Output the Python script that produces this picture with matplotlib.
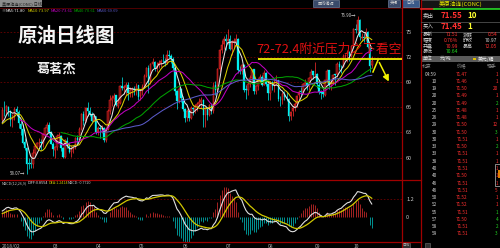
import numpy as np
import pandas as pd
import matplotlib
matplotlib.use('Agg')
import matplotlib.pyplot as plt

plt.rcParams['font.family'] = ['Noto Sans CJK SC', 'DejaVu Sans']

# ---------------- data ----------------
warmup_closes = [62.96, 63.57, 63.80, 64.30, 63.73, 63.97, 63.95, 63.37, 63.57, 64.47]

opens = [64.5, 65.6, 65.5, 66.0, 65.6, 64.5,
         64.8, 65.8, 65.4, 64.0, 63.4, 61.8, 61.1, 59.3, 59.3, 59.2, 60.6, 61.3, 61.7, 61.8, 61.7, 62.7, 63.5, 63.9, 63.0,
         61.6, 60.9, 61.2, 62.6, 62.6, 61.1, 60.1, 62.0, 61.4, 60.7, 61.0, 61.2, 62.3, 62.1, 63.4, 65.2, 64.3, 65.9, 65.6, 65.2, 64.4,
         64.9, 63.0, 63.5, 63.4, 63.5, 62.1, 63.4, 65.5, 66.8, 67.1, 67.4, 66.2, 66.5, 68.5, 68.3, 68.4, 68.6, 67.7, 68.1, 68.2, 68.1,
         68.6, 67.3, 67.9, 68.4, 69.7, 70.7, 69.1, 71.1, 71.4, 70.7, 71.0, 71.3, 71.5, 71.5, 71.3, 72.2, 72.1, 71.8, 70.7, 67.9, 66.7, 68.2,
         67.0, 65.8, 64.8, 65.5, 64.7, 65.9, 65.7, 66.1, 66.4, 66.6, 66.9, 65.1, 65.9, 65.1, 66.2, 65.5, 68.6, 68.1, 70.5, 72.8, 73.5,
         74.1, 73.9, 74.1, 72.9, 73.8, 73.9, 74.1, 70.4, 70.3, 71.0, 68.1, 68.1, 68.8, 69.5, 70.5, 67.9, 68.5, 69.3, 69.6, 68.7, 70.1,
         68.8, 67.7, 69.0, 68.5, 69.0, 69.2, 66.9, 66.8, 67.6, 67.2, 67.0, 65.0, 65.5, 65.9, 66.4, 67.4, 67.9, 67.8, 68.7, 68.9, 68.5, 69.5, 70.3,
         69.8, 69.9, 68.7, 67.8, 67.8, 67.5, 69.3, 70.4, 68.6, 69.0, 69.9, 69.9, 71.1, 70.8, 70.8, 72.1, 72.3, 72.6, 72.1,
         73.3, 75.3, 75.2, 76.4, 74.3, 74.3, 74.3, 75.0, 73.2, 70.99]

highs = [66.0, 66.7, 66.3, 66.2, 65.7, 65.2,
         66.0, 66.2, 65.7, 64.4, 64.0, 62.3, 61.3, 59.9, 59.9, 61.0, 61.6, 61.9, 62.3, 62.2, 62.9, 63.7, 64.2, 64.2, 63.2,
         61.8, 61.4, 62.8, 63.0, 62.7, 61.3, 62.2, 62.4, 61.8, 61.5, 61.4, 62.4, 62.7, 63.6, 65.3, 65.5, 66.0, 66.6, 66.0, 65.4, 65.2,
         65.0, 63.8, 63.9, 63.9, 63.7, 63.6, 65.8, 67.4, 67.5, 67.7, 67.5, 66.9, 68.6, 69.6, 68.7, 69.0, 69.0, 68.4, 68.4, 68.5, 68.9,
         68.7, 68.0, 68.8, 69.9, 70.8, 71.0, 71.3, 71.9, 71.5, 71.4, 71.6, 71.8, 72.3, 71.9, 72.8, 72.8, 72.3, 72.0, 70.8, 68.0, 68.4, 68.3,
         67.3, 65.9, 65.8, 65.8, 66.2, 66.0, 66.4, 66.6, 67.1, 67.2, 67.0, 66.0, 66.0, 66.4, 66.5, 69.0, 69.1, 70.7, 72.9, 74.0, 74.5,
         74.7, 75.3, 74.6, 74.0, 74.2, 74.7, 74.3, 70.9, 71.2, 71.1, 68.6, 69.1, 69.8, 70.6, 70.5, 68.7, 69.5, 69.9, 69.8, 70.4, 70.2,
         68.9, 69.1, 69.1, 69.4, 69.8, 69.3, 67.3, 67.8, 67.9, 67.8, 67.1, 65.6, 66.1, 66.6, 67.5, 68.0, 68.4, 68.9, 69.4, 69.0, 69.6, 70.5, 70.3,
         71.4, 70.1, 69.3, 68.0, 68.3, 69.3, 70.6, 70.4, 69.2, 69.9, 70.0, 71.4, 71.5, 71.0, 72.3, 72.4, 72.8, 72.7, 73.4,
         75.4, 75.9, 76.9, 76.5, 74.9, 74.9, 75.5, 75.1, 73.2, 72.05]

lows = [64.3, 65.0, 65.2, 65.0, 63.8, 63.7,
        64.5, 65.0, 63.5, 62.7, 61.6, 60.9, 58.07, 58.6, 58.8, 58.8, 60.2, 61.0, 61.2, 60.9, 61.2, 62.4, 63.0, 62.8, 61.6,
        60.2, 60.0, 60.9, 61.9, 60.8, 59.9, 60.0, 61.1, 60.5, 60.1, 60.6, 61.0, 61.5, 62.0, 63.3, 63.9, 64.2, 65.0, 64.9, 64.2, 64.3,
        62.8, 62.7, 62.3, 62.9, 61.9, 61.8, 63.3, 65.2, 66.2, 66.6, 66.1, 65.9, 66.4, 68.0, 67.6, 67.5, 66.9, 67.2, 67.2, 67.5, 67.4,
        66.9, 66.9, 67.4, 68.3, 69.6, 67.7, 68.8, 70.9, 70.3, 70.2, 70.7, 70.8, 71.3, 70.9, 71.2, 71.9, 71.3, 70.4, 67.5, 65.8, 66.5, 66.6,
        65.5, 64.2, 64.4, 64.3, 64.6, 65.1, 65.3, 65.5, 66.0, 65.9, 63.6, 63.6, 64.5, 64.9, 65.2, 65.3, 67.5, 67.9, 70.2, 72.5, 72.9,
        72.8, 73.5, 72.8, 72.2, 73.1, 73.5, 70.1, 69.9, 70.0, 67.8, 67.0, 67.5, 68.4, 68.8, 67.6, 67.6, 68.1, 69.1, 68.5, 68.6, 68.5,
        66.9, 66.9, 68.0, 67.8, 68.7, 66.7, 66.2, 66.4, 66.9, 66.7, 64.4, 64.5, 65.0, 65.6, 66.0, 66.9, 67.4, 67.6, 68.5, 68.0, 68.1, 69.4, 69.4,
        69.5, 68.3, 67.6, 67.0, 67.2, 67.3, 68.9, 68.2, 68.1, 68.8, 68.7, 69.6, 70.4, 70.1, 70.8, 71.6, 71.4, 71.5, 72.0,
        73.1, 74.8, 74.8, 74.0, 73.9, 73.8, 73.9, 73.0, 70.2, 70.64]

closes = [65.61, 65.51, 66.14, 65.56, 64.50, 64.73,
          65.80, 65.45, 64.15, 63.39, 61.79, 61.15, 59.20, 59.29, 59.19, 60.60, 61.34, 61.68, 61.79, 61.68, 62.77, 63.55, 63.91, 63.01, 61.64,
          60.99, 61.25, 62.57, 62.60, 61.15, 60.12, 62.04, 61.36, 60.71, 60.96, 61.19, 62.34, 62.06, 63.40, 65.17, 64.30, 65.88, 65.55, 65.25, 64.38, 64.94,
          63.01, 63.51, 63.37, 63.54, 62.06, 63.42, 65.51, 66.82, 67.07, 67.39, 66.22, 66.52, 68.47, 68.29, 68.38, 68.64, 67.70, 68.05, 68.19, 68.10, 68.57,
          67.25, 67.93, 68.43, 69.72, 70.73, 69.06, 71.14, 71.36, 70.70, 70.96, 71.31, 71.49, 71.49, 71.28, 72.24, 72.13, 71.84, 70.71, 67.88, 66.73, 68.21, 67.04,
          65.81, 64.75, 65.52, 64.73, 65.95, 65.74, 66.10, 66.36, 66.64, 66.89, 65.06, 65.85, 65.07, 66.22, 65.54, 68.58, 68.08, 70.53, 72.76, 73.45, 74.15,
          73.94, 74.14, 72.94, 73.80, 73.85, 74.11, 70.38, 70.33, 71.01, 68.06, 68.08, 68.76, 69.46, 70.46, 67.89, 68.52, 69.30, 69.61, 68.69, 70.13, 68.76,
          67.66, 68.96, 68.49, 69.01, 69.17, 66.94, 66.81, 67.63, 67.20, 67.04, 65.01, 65.46, 65.91, 66.43, 67.35, 67.86, 67.83, 68.72, 68.87, 68.53, 69.51, 70.25, 69.80,
          69.87, 68.72, 67.77, 67.75, 67.54, 69.25, 70.37, 68.59, 68.99, 69.85, 69.85, 71.12, 70.80, 70.78, 72.08, 72.28, 72.57, 72.12, 73.25,
          75.30, 75.23, 76.41, 74.33, 74.34, 74.29, 74.96, 73.17, 70.97, 71.51]

month_ticks = [0, 25, 46, 67, 89, 110, 131, 154, 173]
month_labels = ['2018/02', '03', '04', '05', '06', '07', '08', '09', '10']
price_ticks = [75, 72, 69, 66, 63, 60]
macd_ticks = [1.2, 0]
ma_periods = [5, 10, 20, 40, 60]
ma_colors = ['#e6e6e6', '#d8d000', '#c000c0', '#00a000', '#5a5ac8']
ma_legend = ['MA5:71.80', 'MA10:73.97', 'MA20:73.61', 'MA40:70.61', 'MA60:69.69']
high_label, low_label = '76.90', '58.07'
resist_price = 71.8
resist_start = 126
forecast_path = [(182.6, 70.2), (185.1, 71.63), (191.0, 68.77)]

tick_times = ['04:59', '10', '19', '20', '20', '25', '26', '29', '30', '30', '33', '33', '38', '40', '40',
              '46', '46', '50', '52', '55', '57', '58', '59']
tick_prices = ['71.47', '71.46', '71.50', '71.49', '71.49', '71.48', '71.48', '71.50', '71.50', '71.51', '71.50',
               '71.51', '71.51', '71.51', '71.50', '71.51', '71.51', '71.52', '71.52', '71.51', '71.50', '71.51', '71.51']
tick_vols = ['1', '1', '20', '1', '2', '1', '1', '12', '3', '1', '2', '1', '1', '1', '1', '1', '5', '1', '1', '1', '4', '2', '3']
tick_up = [1, 1, 1, 1, 0, 1, 1, 1, 0, 1, 0, 1, 1, 1, 1, 1, 1, 1, 1, 0, 0, 0, 0]

# ---------------- computations ----------------
o = np.array(opens); h = np.array(highs); l = np.array(lows); c = np.array(closes)
n = len(c)
idx = np.arange(n)
full = pd.Series(warmup_closes + closes)
nw = len(warmup_closes)
mas = [full.rolling(p).mean().values[nw:] for p in ma_periods]
ema12 = full.ewm(span=12, adjust=False).mean()
ema26 = full.ewm(span=26, adjust=False).mean()
diff = (ema12 - ema26)
dea = diff.ewm(span=9, adjust=False).mean()
macd = 2 * (diff - dea)
diff = diff.values[nw:]; dea = dea.values[nw:]; macd = macd.values[nw:]

# ---------------- figure ----------------
W, H = 500, 248
fig = plt.figure(figsize=(5, 2.48), dpi=100, facecolor='black')

def rect(x0, y0, x1, y1):
    return [x0 / W, 1 - y1 / H, (x1 - x0) / W, (y1 - y0) / H]

px0, dx = 2.3, 2.03
xlim = (-px0 / dx, (402 - px0) / dx)

ax = fig.add_axes(rect(0, 8, 402, 179.5))
ax.set_facecolor('black')
ax.set_xlim(*xlim)
ax.set_ylim(75 - (179.5 - 31.7) / 8.39, 75 + (31.7 - 8) / 8.39)
for p in price_ticks:
    ax.axhline(p, color='#6a0000', lw=0.6, ls=(0, (2, 2)), zorder=0)

up = c >= o
body_lo = np.minimum(o, c)
body_h = np.maximum(np.abs(c - o), 0.06)
ax.vlines(idx[up], l[up], h[up], color='#ff3030', lw=0.5, zorder=2)
ax.vlines(idx[~up], l[~up], h[~up], color='#00f0f0', lw=0.5, zorder=2)
ax.bar(idx[up], body_h[up], bottom=body_lo[up], width=0.75, color='#6a0c0c',
       edgecolor='#ff2a2a', linewidth=0.35, zorder=3)
ax.bar(idx[~up], body_h[~up], bottom=body_lo[~up], width=0.75, color='#00f0f0',
       edgecolor='#00f0f0', linewidth=0.2, zorder=3)
for m, col in zip(mas, ma_colors):
    ax.plot(idx, m, color=col, lw=0.75, zorder=4)

# annotations
ax.hlines(resist_price, resist_start, xlim[1], color='#f0f000', lw=1.3, zorder=6)
fx = [p[0] for p in forecast_path]; fy = [p[1] for p in forecast_path]
ax.plot(fx[:2], fy[:2], color='#f0f000', lw=1.1, zorder=6)
ax.annotate('', xy=(fx[2], fy[2]), xytext=(fx[1], fy[1]),
            arrowprops=dict(arrowstyle='-|>,head_length=0.35,head_width=0.18', color='#f0f000', lw=1.1), zorder=6)
ih = int(np.argmax(h)); il = int(np.argmin(l))
ax.text(ih - 0.8, h[ih], high_label + '→', color='#d0d0d0', fontsize=3.2, ha='right', va='center', zorder=7)
ax.text(il - 0.8, l[il], low_label + '→', color='#d0d0d0', fontsize=3.2, ha='right', va='center', zorder=7)

ax.yaxis.tick_right()
ax.set_yticks(price_ticks)
ax.set_yticklabels([str(p) for p in price_ticks])
ax.tick_params(axis='y', length=0, pad=3, labelsize=4, labelcolor='#c8c8c8')
ax.set_xticks([])
for s in ax.spines.values():
    s.set_visible(False)

# MACD panel
axm = fig.add_axes(rect(0, 180.5, 402, 242))
axm.set_facecolor('black')
axm.set_xlim(*xlim)
axm.set_ylim(-(242 - 217) / 15, (217 - 180.5) / 15)
axm.axhline(1.2, color='#6a0000', lw=0.6, ls=(0, (2, 2)), zorder=0)
pos = macd >= 0
axm.vlines(idx[pos], 0, macd[pos], color='#c02828', lw=0.6)
axm.vlines(idx[~pos], 0, macd[~pos], color='#00a8a8', lw=0.6)
axm.plot(idx, diff, color='#e0e0e0', lw=0.8)
axm.plot(idx, dea, color='#d0c800', lw=0.9)
axm.yaxis.tick_right()
axm.set_yticks(macd_ticks)
axm.set_yticklabels(['1.2', '0'])
axm.tick_params(axis='y', length=0, pad=3, labelsize=4, labelcolor='#c8c8c8')
axm.set_xticks(month_ticks)
axm.set_xticklabels(month_labels)
axm.tick_params(axis='x', length=0, pad=1.2, labelsize=3.6, labelcolor='#b0b0b0')
for lab in axm.get_xticklabels():
    lab.set_horizontalalignment('left')
for s in axm.spines.values():
    s.set_visible(False)

# ---------------- overlay (frame, texts, quote panel) ----------------
ov = fig.add_axes([0, 0, 1, 1], zorder=20)
ov.set_xlim(0, W); ov.set_ylim(H, 0); ov.axis('off'); ov.patch.set_alpha(0)

def T(x, y, s, col='#c8c8c8', fs=4, ha='left', va='center', **kw):
    ov.text(x, y, s, color=col, fontsize=fs, ha=ha, va=va, **kw)

red = '#a00000'
ov.plot([0, 421], [179.8, 179.8], color=red, lw=0.9)
ov.plot([0, 421], [242.3, 242.3], color=red, lw=0.9)
ov.plot([0, 421], [7.6, 7.6], color='#500000', lw=0.7)
ov.plot([401.5, 401.5], [0, 248], color=red, lw=0.9)
ov.plot([420.5, 420.5], [0, 248], color=red, lw=0.9)

# header
ov.add_patch(plt.Rectangle((0, 0), 42, 6.5, facecolor='#8c8c8c', edgecolor='none'))
T(2, 3.3, '美原油连(CONC) 日线', '#202020', 3)
ov.add_patch(plt.Rectangle((313, 0), 26, 6.5, facecolor='#3a4a6a', edgecolor='#8090b0', lw=0.4))
T(326, 3.3, '画线编辑', '#d0d0d0', 3, ha='center')
ov.add_patch(plt.Rectangle((388, 0), 12, 6.5, facecolor='#3a4a6a', edgecolor='#8090b0', lw=0.4))
T(394, 3.3, '关闭', '#d0d0d0', 3, ha='center')
ov.add_patch(plt.Rectangle((402, 0), 17, 6.5, facecolor='#3a5a8a', edgecolor='#90a0c0', lw=0.4))
T(410.5, 3.3, '日线', '#e0e0e0', 3, ha='center')

# MA legend
T(1.5, 10.5, '※', '#c0c0c0', 3)
for xpos, s, col in zip([6, 28, 51, 74, 97], ma_legend, ma_colors):
    T(xpos, 10.5, s, col, 3.0)

# MACD legend
T(2, 183.5, 'MACD(12,26,9)', '#c0c0c0', 2.7)
T(28, 183.5, 'DIFF:0.8554', '#e0e0e0', 2.7)
T(49, 183.5, 'DEA:1.2414', '#d0c800', 2.7)
T(68, 183.5, 'MACD:-0.7720', '#c0c0c0', 2.7)

# titles
T(66, 36, '原油日线图', '#f4f4f4', 14, ha='center', fontweight='bold')
T(57, 68.5, '葛茗杰', '#f0f0f0', 9.5, ha='center', fontweight='bold')
T(256, 49, '72-72.4附近压力之下看空', '#e01010', 9.2)

# price marker on axis
ov.add_patch(plt.Rectangle((400.5, 57.5), 2.2, 2.2, facecolor='#f0f000', edgecolor='none'))

# quote panel
ov.add_patch(plt.Rectangle((421, 0), 79, 8, facecolor='#141414', edgecolor='#606060', lw=0.5))
T(461, 4, '美原油连(CONC)', '#e8e800', 4.2, ha='center')
ov.plot([421, 434], [9.3, 9.3], color='#e02020', lw=1.2)
ov.plot([434, 500], [9.3, 9.3], color='#20d020', lw=1.2)
T(423, 15.5, '卖出', '#d0d0d0', 4)
T(441, 15.5, '71.55', '#ff3030', 5.8, fontweight='bold')
T(467, 15.5, '10', '#ffff30', 5.8, fontweight='bold')
ov.plot([421, 500], [21.5, 21.5], color='#505050', lw=0.6)
T(423, 26.5, '买入', '#d0d0d0', 4)
T(441, 26.5, '71.45', '#ff3030', 5.8, fontweight='bold')
T(467, 26.5, '1', '#ffff30', 5.8, fontweight='bold')
ov.plot([421, 500], [31.5, 31.5], color='#505050', lw=0.6)
stats = [('最新', '71.51', '#ff3030', '涨跌', '0.54', '#ff3030'),
         ('幅度', '0.76%', '#ff3030', '昨收', '70.97', '#d0d0d0'),
         ('开盘', '70.99', '#ff3030', '最高', '72.05', '#ff3030'),
         ('最低', '70.64', '#20e020', '', '', '#d0d0d0')]
for k, (a, av, ac, b, bv, bc) in enumerate(stats):
    yy = 35 + k * 5.5
    T(423, yy, a, '#d0d0d0', 3.6)
    T(458, yy, av, ac, 3.6, ha='right')
    T(463, yy, b, '#d0d0d0', 3.6)
    T(497, yy, bv, bc, 3.6, ha='right')
ov.add_patch(plt.Rectangle((421, 55.5), 79, 6.5, facecolor='#5a5a5a', edgecolor='none'))
T(423, 58.8, '单位', '#e0e0e0', 3.5)
T(440, 58.8, '元/吨', '#e0e0e0', 3.5)
ov.add_patch(plt.Rectangle((473, 57.5), 2.5, 2.5, facecolor='#e0c000', edgecolor='none'))
T(478, 58.8, '美元/桶', '#f0f0f0', 3.5)
T(427, 66.5, '北京', '#909090', 3.5, ha='center')
T(462, 66.5, '价格', '#909090', 3.5, ha='center')
T(492, 66.5, '现手', '#909090', 3.5, ha='center')
for k in range(len(tick_times)):
    yy = 74 + k * 7.27
    T(437, yy, tick_times[k], '#d0d0d0', 3.4, ha='right')
    T(462, yy, tick_prices[k], '#ff3030', 3.4, ha='center')
    T(498, yy, tick_vols[k], '#ff3030' if tick_up[k] else '#20d020', 3.4, ha='right')
ov.add_patch(plt.Rectangle((495, 164), 6, 22, facecolor='none', edgecolor='#a0a0a0', lw=0.6))
ov.add_patch(plt.Rectangle((498, 170), 2, 8, facecolor='#e08000', edgecolor='none'))

# bottom bar
ov.add_patch(plt.Rectangle((402, 243), 8, 5, facecolor='#303030', edgecolor='#707070', lw=0.4))
T(406, 245.5, '日线', '#c0c0c0', 2.5, ha='center')
ov.add_patch(plt.Rectangle((425, 243), 5, 5, facecolor='#303030', edgecolor='#707070', lw=0.4))

fig.savefig('out.png', dpi=100, facecolor='black')
